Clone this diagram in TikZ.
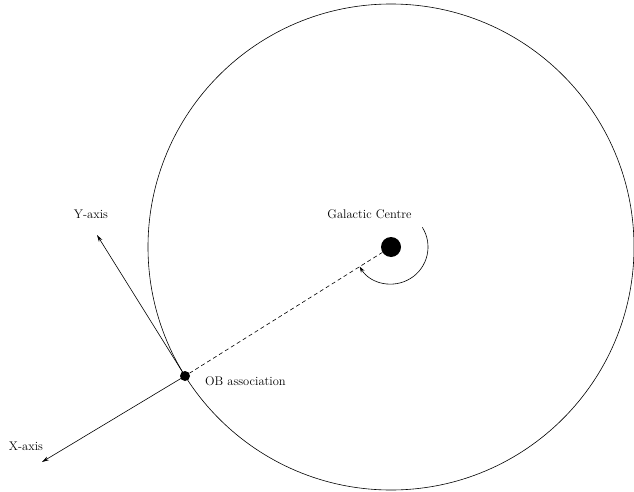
\documentclass[tikz,border=0pt]{standalone}
\usetikzlibrary{arrows.meta}
\begin{document}
\begin{tikzpicture}[x=1pt,y=1pt,
  thinline/.style={line width=0.6pt},
  axisarrow/.style={thinline,-{Stealth[length=7pt,width=4pt]}},
  lbl/.style={font=\fontsize{12.5}{15}\selectfont, inner sep=0pt}]
\useasboundingbox (0,0) rectangle (634,491);
\coordinate (C) at (391,244);
\draw[thinline] (C) circle[radius=243];
\node[circle, fill=black, minimum size=20pt, inner sep=0pt] (gc) at (C) {};
\node[circle, fill=black, minimum size=10pt, inner sep=0pt] (ob) at (185,115) {};
\coordinate (yend) at (97,256);
\coordinate (xend) at (42,29);
\draw[axisarrow] (ob.center) -- (yend);
\draw[axisarrow] (ob.center) -- (xend);
\draw[thinline, dashed, dash pattern=on 4pt off 3pt] (ob) -- (gc);
\draw[thinline, -{Stealth[length=6pt,width=4pt]}] ([shift={(32:37)}]C) arc[start angle=32, end angle=-148, radius=37];
\node[lbl] (ylbl) at (91,277) {Y-axis};
\node[lbl] (xlbl) at (26,45) {X-axis};
\node[lbl, anchor=west] (oblbl) at (205,110) {OB association};
\node[lbl] (gclbl) at (369.5,277) {Galactic Centre};
\end{tikzpicture}
\end{document}
